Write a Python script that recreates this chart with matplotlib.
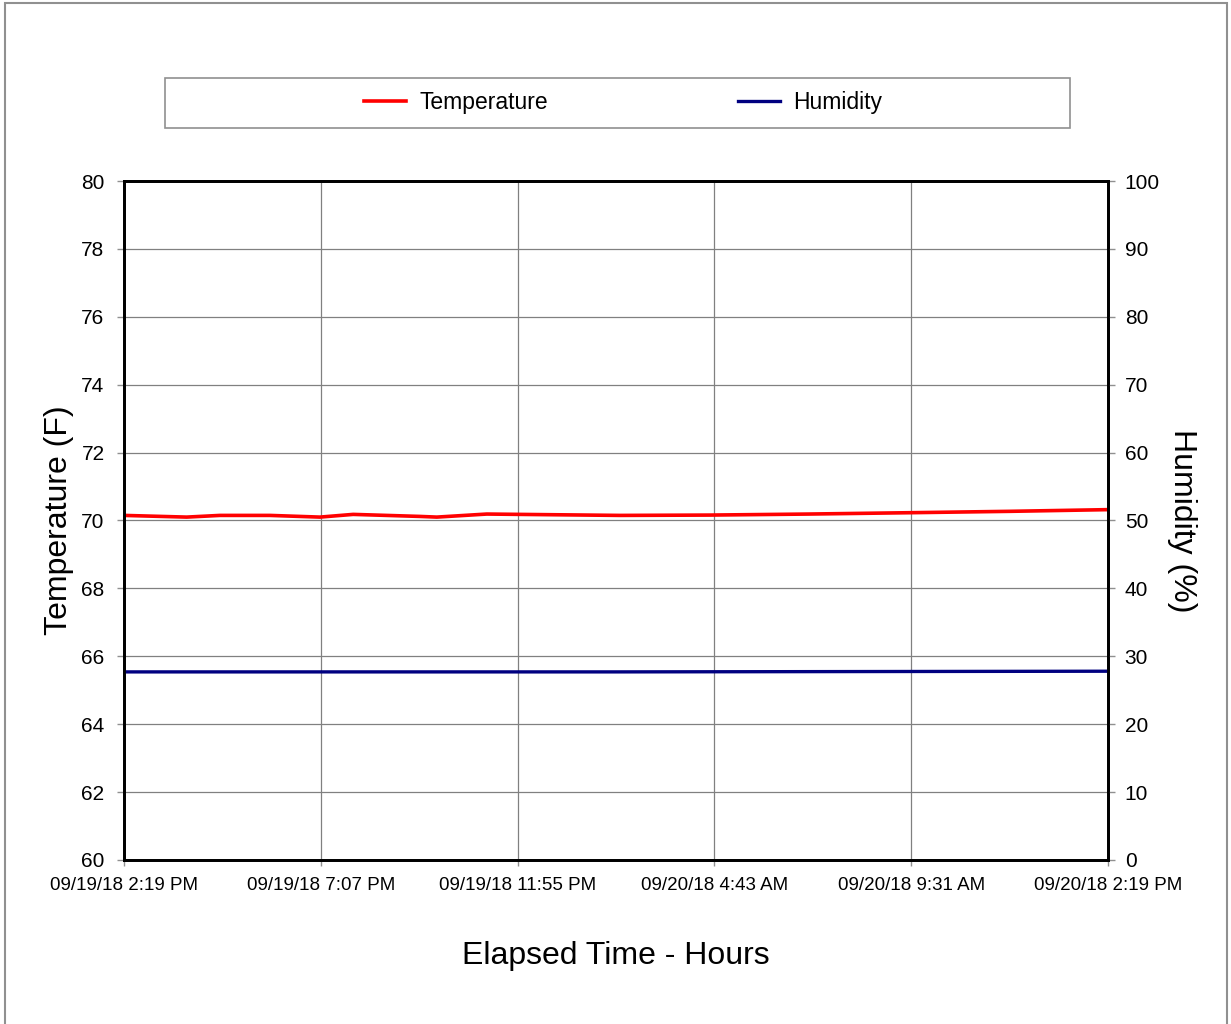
import matplotlib
matplotlib.use("Agg")
import matplotlib.pyplot as plt
from matplotlib.patches import Rectangle

plt.rcParams['font.family'] = ['Liberation Sans', 'DejaVu Sans']

# elapsed hours since 09/19/18 2:19 PM
hours = [0, 1.53, 2.34, 3.56, 4.78, 5.59, 7.22, 7.63, 8.85, 10.46,
         12.1, 14.3, 16.7, 19.2, 21.6, 24]
temperature = [70.15, 70.10, 70.15, 70.15, 70.10, 70.18, 70.12, 70.10, 70.19, 70.17,
               70.15, 70.16, 70.19, 70.23, 70.27, 70.32]

hum_hours = [0, 12, 18, 24]
humidity = [27.7, 27.7, 27.75, 27.8]

tick_hours = [0, 4.8, 9.6, 14.4, 19.2, 24]
tick_labels = ["09/19/18 2:19 PM", "09/19/18 7:07 PM", "09/19/18 11:55 PM",
               "09/20/18 4:43 AM", "09/20/18 9:31 AM", "09/20/18 2:19 PM"]

fig = plt.figure(figsize=(12.31, 10.24), dpi=100)
ax = fig.add_axes([0.1007, 0.1602, 0.7994, 0.6630])
ax2 = ax.twinx()

ax.plot(hours, temperature, color='red', lw=2.6, label='Temperature')
ax2.plot(hum_hours, humidity, color='#000080', lw=2.4, label='Humidity')

ax.set_xlim(0, 24)
ax.set_ylim(60, 80)
ax2.set_ylim(0, 100)
ax.set_yticks(range(60, 81, 2))
ax2.set_yticks(range(0, 101, 10))
ax.set_xticks(tick_hours)
ax.set_xticklabels(tick_labels)

ax.grid(True, color='#808080', lw=0.9)
ax.set_axisbelow(True)

for a in (ax, ax2):
    for s in a.spines.values():
        s.set_linewidth(2)
        s.set_color('black')
    a.tick_params(axis='y', labelsize=15, color='#909090', length=5, width=1,
                  pad=7)
ax.tick_params(axis='y', pad=9)
ax.tick_params(axis='x', labelsize=13.5, color='#909090', length=4, width=1, pad=8)

ax.set_ylabel('Temperature (F)', fontsize=23, labelpad=5)
ax2.set_ylabel('Humidity (%)', fontsize=23, rotation=270, labelpad=27)
ax.set_xlabel('Elapsed Time - Hours', fontsize=23, labelpad=34)

# legend box
fig.patches.append(Rectangle((165 / 1231, 1 - 128 / 1024), 905 / 1231, 50 / 1024,
                             transform=fig.transFigure, fill=False,
                             edgecolor='#909090', lw=1.2))
h1, l1 = ax.get_legend_handles_labels()
h2, l2 = ax2.get_legend_handles_labels()
fig.legend(h1 + h2, l1 + l2, loc='center', bbox_to_anchor=(623 / 1231, 1 - 103 / 1024),
           ncol=2, frameon=False, fontsize=16.5, handlelength=1.85,
           handletextpad=0.55, columnspacing=8.3)

# outer border (bottom edge falls outside the picture)
fig.patches.append(Rectangle((5 / 1231, -0.01), 1222 / 1231, 1.007,
                             transform=fig.transFigure, fill=False,
                             edgecolor='#909090', lw=1.5))

fig.savefig('out.png', dpi=100)
